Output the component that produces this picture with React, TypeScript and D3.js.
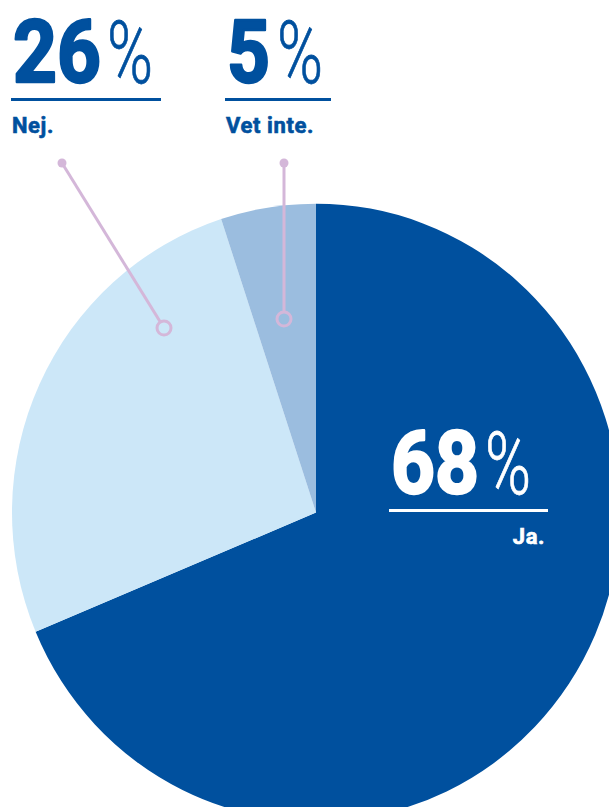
import React from "react";
import * as d3 from "d3";

// survey answers
const labels = ["Ja.", "Nej.", "Vet inte."];
const values = [68, 26, 5];
const colors = ["#00509E", "#CCE7F8", "#9BBDDF"];

const width = 609;
const height = 807;
const cx = 316;
const cy = 512.5;
const radius = 304;
const squash = 1.016; // the source pie is a touch taller than wide

const leader = "#D4B7D9";
const dark = "#00509E";
const font = "Roboto, 'Liberation Sans', sans-serif";
const bigSize = 88;
const digitAdvance = 0.5615; // Roboto bold figure width, em

type Callout = {
  i: number;
  x: number;
  w: number;
  fill: string;
  anchorEnd?: boolean;
  base: number;
};

const callouts: Callout[] = [
  { i: 1, x: 11, w: 150, fill: dark, base: 82 },
  { i: 2, x: 225, w: 106, fill: dark, base: 82 },
  { i: 0, x: 389, w: 159, fill: "#fff", base: 493, anchorEnd: true },
];

// leader lines: dot -> ring
const leaders = [
  { from: [62, 163], to: [164, 328] },
  { from: [284, 163], to: [284, 319] },
];

const App = () => {
  const pie = d3
    .pie<number>()
    .sort(null)
    .value((d) => d)
    .startAngle(0)
    .endAngle(2 * Math.PI);
  const arcs = pie(values);
  const arc = d3
    .arc<d3.PieArcDatum<number>>()
    .innerRadius(0)
    .outerRadius(radius);

  return (
    <svg
      width={width}
      height={height}
      style={{ position: "absolute", left: 0, top: 0 }}
    >
      <g transform={`translate(${cx},${cy}) scale(1,${squash})`}>
        {arcs.map((a, i) => (
          <path key={i} d={arc(a) || ""} fill={colors[i]} />
        ))}
      </g>

      {leaders.map((l, i) => {
        const [x1, y1] = l.from;
        const [x2, y2] = l.to;
        const len = Math.hypot(x2 - x1, y2 - y1);
        const r = 7;
        const ex = x2 - ((x2 - x1) / len) * r;
        const ey = y2 - ((y2 - y1) / len) * r;
        return (
          <g key={i}>
            <line
              x1={x1}
              y1={y1}
              x2={ex}
              y2={ey}
              stroke={leader}
              strokeWidth={3}
            />
            <circle cx={x1} cy={y1} r={4.5} fill={leader} />
            <circle
              cx={x2}
              cy={y2}
              r={r}
              fill="none"
              stroke={leader}
              strokeWidth={3}
            />
          </g>
        );
      })}

      {callouts.map((c) => {
        const num = String(values[c.i]);
        const digitsW = num.length * 44;
        const sx = (digitsW - 2) / (num.length * digitAdvance * bigSize);
        return (
          <g key={c.i} fill={c.fill}>
            <g transform={`translate(${c.x + 2},${c.base}) scale(${sx},1)`}>
              <text
                x={0}
                y={0}
                fontFamily={font}
                fontSize={bigSize}
                fontWeight={700}
                stroke={c.fill}
                strokeWidth={2.6}
                strokeLinejoin="round"
              >
                {num}
              </text>
            </g>
            <text
              x={c.x + digitsW + 8}
              y={c.base + 1}
              fontFamily={font}
              fontSize={bigSize}
              fontWeight={300}
              stroke={c.fill}
              strokeWidth={0.8}
              textLength={46}
              lengthAdjust="spacingAndGlyphs"
            >
              %
            </text>
            <rect x={c.x} y={c.base + 16} width={c.w} height={3} />
            <text
              x={c.anchorEnd ? c.x + c.w - 3 : c.x + 1}
              y={c.base + 51}
              textAnchor={c.anchorEnd ? "end" : "start"}
              fontFamily={font}
              fontWeight={700}
              fontSize={22}
              letterSpacing={0.6}
              stroke={c.fill}
              strokeWidth={0.6}
            >
              {labels[c.i]}
            </text>
          </g>
        );
      })}
    </svg>
  );
};

export default App;
